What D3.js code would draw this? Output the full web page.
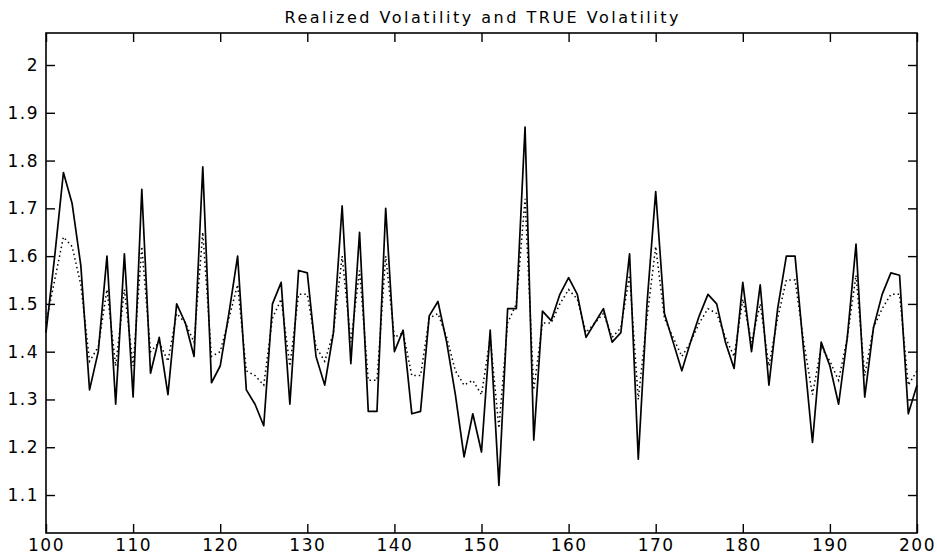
<!DOCTYPE html>
<style>
  body { margin: 0; background: #fff; }
  .axis text { font-family: "DejaVu Sans", sans-serif; font-size: 17px; letter-spacing: 1.5px; fill: #000; }
  .axis path, .axis line { stroke: #000; stroke-width: 1.4; }
</style>
<svg width="937" height="557"></svg>
<script src="https://d3js.org/d3.v7.min.js"></script>
<script>

// time index 100..200
var days = d3.range(100, 201);

// realized volatility (solid)
var realized = [
  1.44, 1.60, 1.775, 1.71, 1.58, 1.32, 1.40, 1.60, 1.29, 1.605,
  1.305, 1.74, 1.355, 1.43, 1.31, 1.50, 1.46, 1.39, 1.787, 1.335,
  1.37, 1.48, 1.60, 1.32, 1.29, 1.245, 1.50, 1.545, 1.29, 1.57,
  1.565, 1.39, 1.33, 1.44, 1.705, 1.375, 1.65, 1.275, 1.275, 1.70,
  1.40, 1.445, 1.27, 1.275, 1.475, 1.505, 1.42, 1.31, 1.18, 1.27,
  1.19, 1.445, 1.12, 1.49, 1.49, 1.87, 1.215, 1.485, 1.465, 1.52,
  1.555, 1.52, 1.43, 1.46, 1.49, 1.42, 1.44, 1.605, 1.175, 1.50,
  1.735, 1.48, 1.42, 1.36, 1.42, 1.475, 1.52, 1.50, 1.42, 1.365,
  1.545, 1.40, 1.54, 1.33, 1.49, 1.60, 1.60, 1.40, 1.21, 1.42,
  1.37, 1.29, 1.43, 1.625, 1.305, 1.45, 1.52, 1.565, 1.56, 1.27,
  1.33
];

// true volatility (dotted)
var trueVol = [
  1.46, 1.55, 1.64, 1.62, 1.54, 1.38, 1.41, 1.53, 1.37, 1.53,
  1.37, 1.62, 1.40, 1.42, 1.38, 1.48, 1.46, 1.42, 1.65, 1.39,
  1.40, 1.47, 1.54, 1.36, 1.35, 1.33, 1.47, 1.51, 1.37, 1.52,
  1.52, 1.41, 1.38, 1.44, 1.60, 1.42, 1.57, 1.34, 1.34, 1.60,
  1.43, 1.44, 1.35, 1.35, 1.47, 1.48, 1.43, 1.36, 1.33, 1.34,
  1.31, 1.43, 1.24, 1.46, 1.50, 1.72, 1.32, 1.46, 1.46, 1.50,
  1.53, 1.51, 1.44, 1.46, 1.48, 1.43, 1.45, 1.56, 1.30, 1.47,
  1.62, 1.47, 1.43, 1.39, 1.42, 1.46, 1.49, 1.48, 1.43, 1.39,
  1.51, 1.42, 1.50, 1.37, 1.47, 1.55, 1.55, 1.42, 1.31, 1.41,
  1.38, 1.34, 1.43, 1.56, 1.35, 1.45, 1.49, 1.52, 1.52, 1.33,
  1.36
];

var xTicks = d3.range(100, 201, 10);
var yTicks = [1.1, 1.2, 1.3, 1.4, 1.5, 1.6, 1.7, 1.8, 1.9, 2.0];

var svg = d3.select("svg"),
    margin = {top: 33, right: 20, bottom: 24, left: 46},
    width = +svg.attr("width") - margin.left - margin.right,
    height = +svg.attr("height") - margin.top - margin.bottom,
    g = svg.append("g").attr("transform", "translate(" + margin.left + "," + margin.top + ")");

var x = d3.scaleLinear().domain([100, 200]).range([0, width]);
var y = d3.scaleLinear().domain([1.0205, 2.067]).range([height, 0]);

var fmt = function(d) { return String(+d.toFixed(1)); };

// frame
g.append("rect")
    .attr("width", width)
    .attr("height", height)
    .attr("fill", "none")
    .attr("stroke", "#000")
    .attr("stroke-width", 1.6);

// axes, ticks inward
g.append("g").attr("class", "axis")
    .attr("transform", "translate(0," + height + ")")
    .call(d3.axisBottom(x).tickValues(xTicks).tickFormat(fmt).tickSizeInner(-9).tickSizeOuter(0).tickPadding(6))
    .call(function(a) { a.select(".domain").remove(); });

g.append("g").attr("class", "axis")
    .call(d3.axisTop(x).tickValues(xTicks).tickFormat("").tickSizeInner(-9).tickSizeOuter(0))
    .call(function(a) { a.select(".domain").remove(); });

g.append("g").attr("class", "axis")
    .call(d3.axisLeft(y).tickValues(yTicks).tickFormat(fmt).tickSizeInner(-9).tickSizeOuter(0).tickPadding(7))
    .call(function(a) { a.select(".domain").remove(); });

g.append("g").attr("class", "axis")
    .attr("transform", "translate(" + width + ",0)")
    .call(d3.axisRight(y).tickValues(yTicks).tickFormat("").tickSizeInner(-9).tickSizeOuter(0))
    .call(function(a) { a.select(".domain").remove(); });

var line = function(vals) {
  return d3.line()
    .x(function(d, i) { return x(days[i]); })
    .y(function(d) { return y(d); })(vals);
};

// true vol, dotted
g.append("path")
    .attr("fill", "none")
    .attr("stroke", "#000")
    .attr("stroke-width", 1.5)
    .attr("stroke-dasharray", "1.5,3")
    .attr("d", line(trueVol));

// realized vol, solid
g.append("path")
    .attr("fill", "none")
    .attr("stroke", "#000")
    .attr("stroke-width", 1.7)
    .attr("stroke-linejoin", "round")
    .attr("d", line(realized));

// title
svg.append("text")
    .attr("x", margin.left + width / 2)
    .attr("y", 23)
    .attr("text-anchor", "middle")
    .attr("font-family", "DejaVu Sans, sans-serif")
    .attr("font-size", 16)
    .attr("textLength", 394)
    .text("Realized Volatility and TRUE Volatility");

</script>
